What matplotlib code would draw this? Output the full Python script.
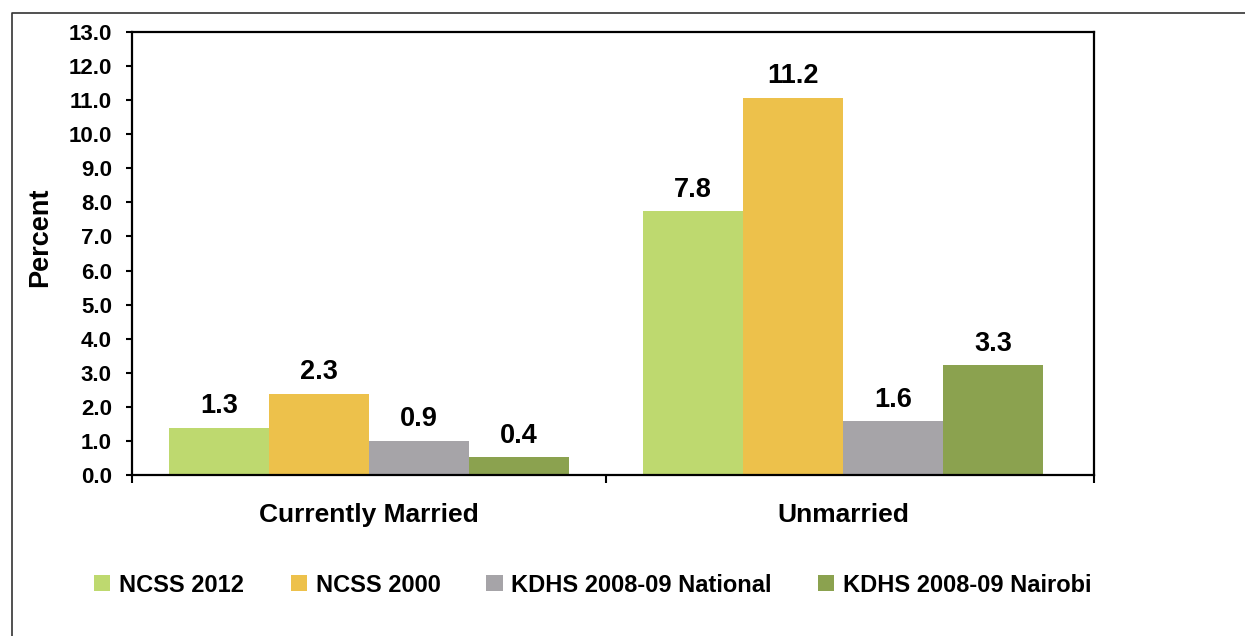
import matplotlib
matplotlib.use("Agg")
from matplotlib import pyplot as plt
from matplotlib.lines import Line2D
from matplotlib.transforms import blended_transform_factory
import numpy as np

plt.rcParams['font.family'] = ['Liberation Sans', 'DejaVu Sans']
plt.rcParams['font.weight'] = 'bold'

categories = ['Currently Married', 'Unmarried']
series = ['NCSS 2012', 'NCSS 2000', 'KDHS 2008-09 National', 'KDHS 2008-09 Nairobi']
colors = ['#BED96F', '#EDC14B', '#A6A4A8', '#8BA24F']

# bar heights as drawn, and the printed labels (they differ slightly in the source)
heights = [
    [1.39, 7.75],
    [2.39, 11.07],
    [1.01, 1.58],
    [0.53, 3.23],
]
labels = [
    ['1.3', '7.8'],
    ['2.3', '11.2'],
    ['0.9', '1.6'],
    ['0.4', '3.3'],
]

W, H = 1245, 636
fig = plt.figure(figsize=(W / 100, H / 100), dpi=100)
ax = fig.add_axes([132 / W, 1 - 475 / H, (1094 - 132) / W, (475 - 32) / H])

# frame around the chart area (top and left edges visible)
fig.add_artist(Line2D([11.5 / W, 11.5 / W, 1], [0, 1 - 13 / H, 1 - 13 / H],
                      transform=fig.transFigure, color='#333333', lw=1.2))

centers = np.arange(len(categories)) + 0.5
bw = 0.211
n = len(series)
for i, (name, col) in enumerate(zip(series, colors)):
    x = centers + (i - (n - 1) / 2) * bw
    ax.bar(x, heights[i], width=bw, color=col, label=name, linewidth=0)
    for xi, hi, lab in zip(x, heights[i], labels[i]):
        ax.annotate(lab, (xi, hi), xytext=(0, 6), textcoords='offset points',
                    ha='center', va='bottom', fontsize=19.5)

ax.set_xlim(0, 2.03)
ax.set_ylim(0, 13)
ax.set_yticks(np.arange(0, 14, 1))
ax.set_yticklabels([f'{v:.1f}' for v in np.arange(0, 14, 1)], fontsize=16)
ax.set_xticks([0, 1, 2.03])
ax.set_xticklabels([])
ax.tick_params(axis='y', direction='out', length=4, width=1.5, pad=10.5)
ax.tick_params(axis='x', direction='out', length=6, width=1.5)
for s in ax.spines.values():
    s.set_linewidth(1.6)
    s.set_color('black')

trans = blended_transform_factory(ax.transData, ax.transAxes)
for c, name in zip(centers, categories):
    ax.text(c, -0.09, name, transform=trans, ha='center', va='center', fontsize=19)

fig.text(40 / W, 1 - 237 / H, 'Percent', rotation=90, ha='center', va='center', fontsize=19.5)

fig.legend(loc='center', bbox_to_anchor=(593 / W, 1 - 585 / H), ncol=4, frameon=False,
           fontsize=17, handlelength=0.68, handleheight=0.68, handletextpad=0.38,
           columnspacing=1.95)

fig.savefig('out.png', dpi=100)
